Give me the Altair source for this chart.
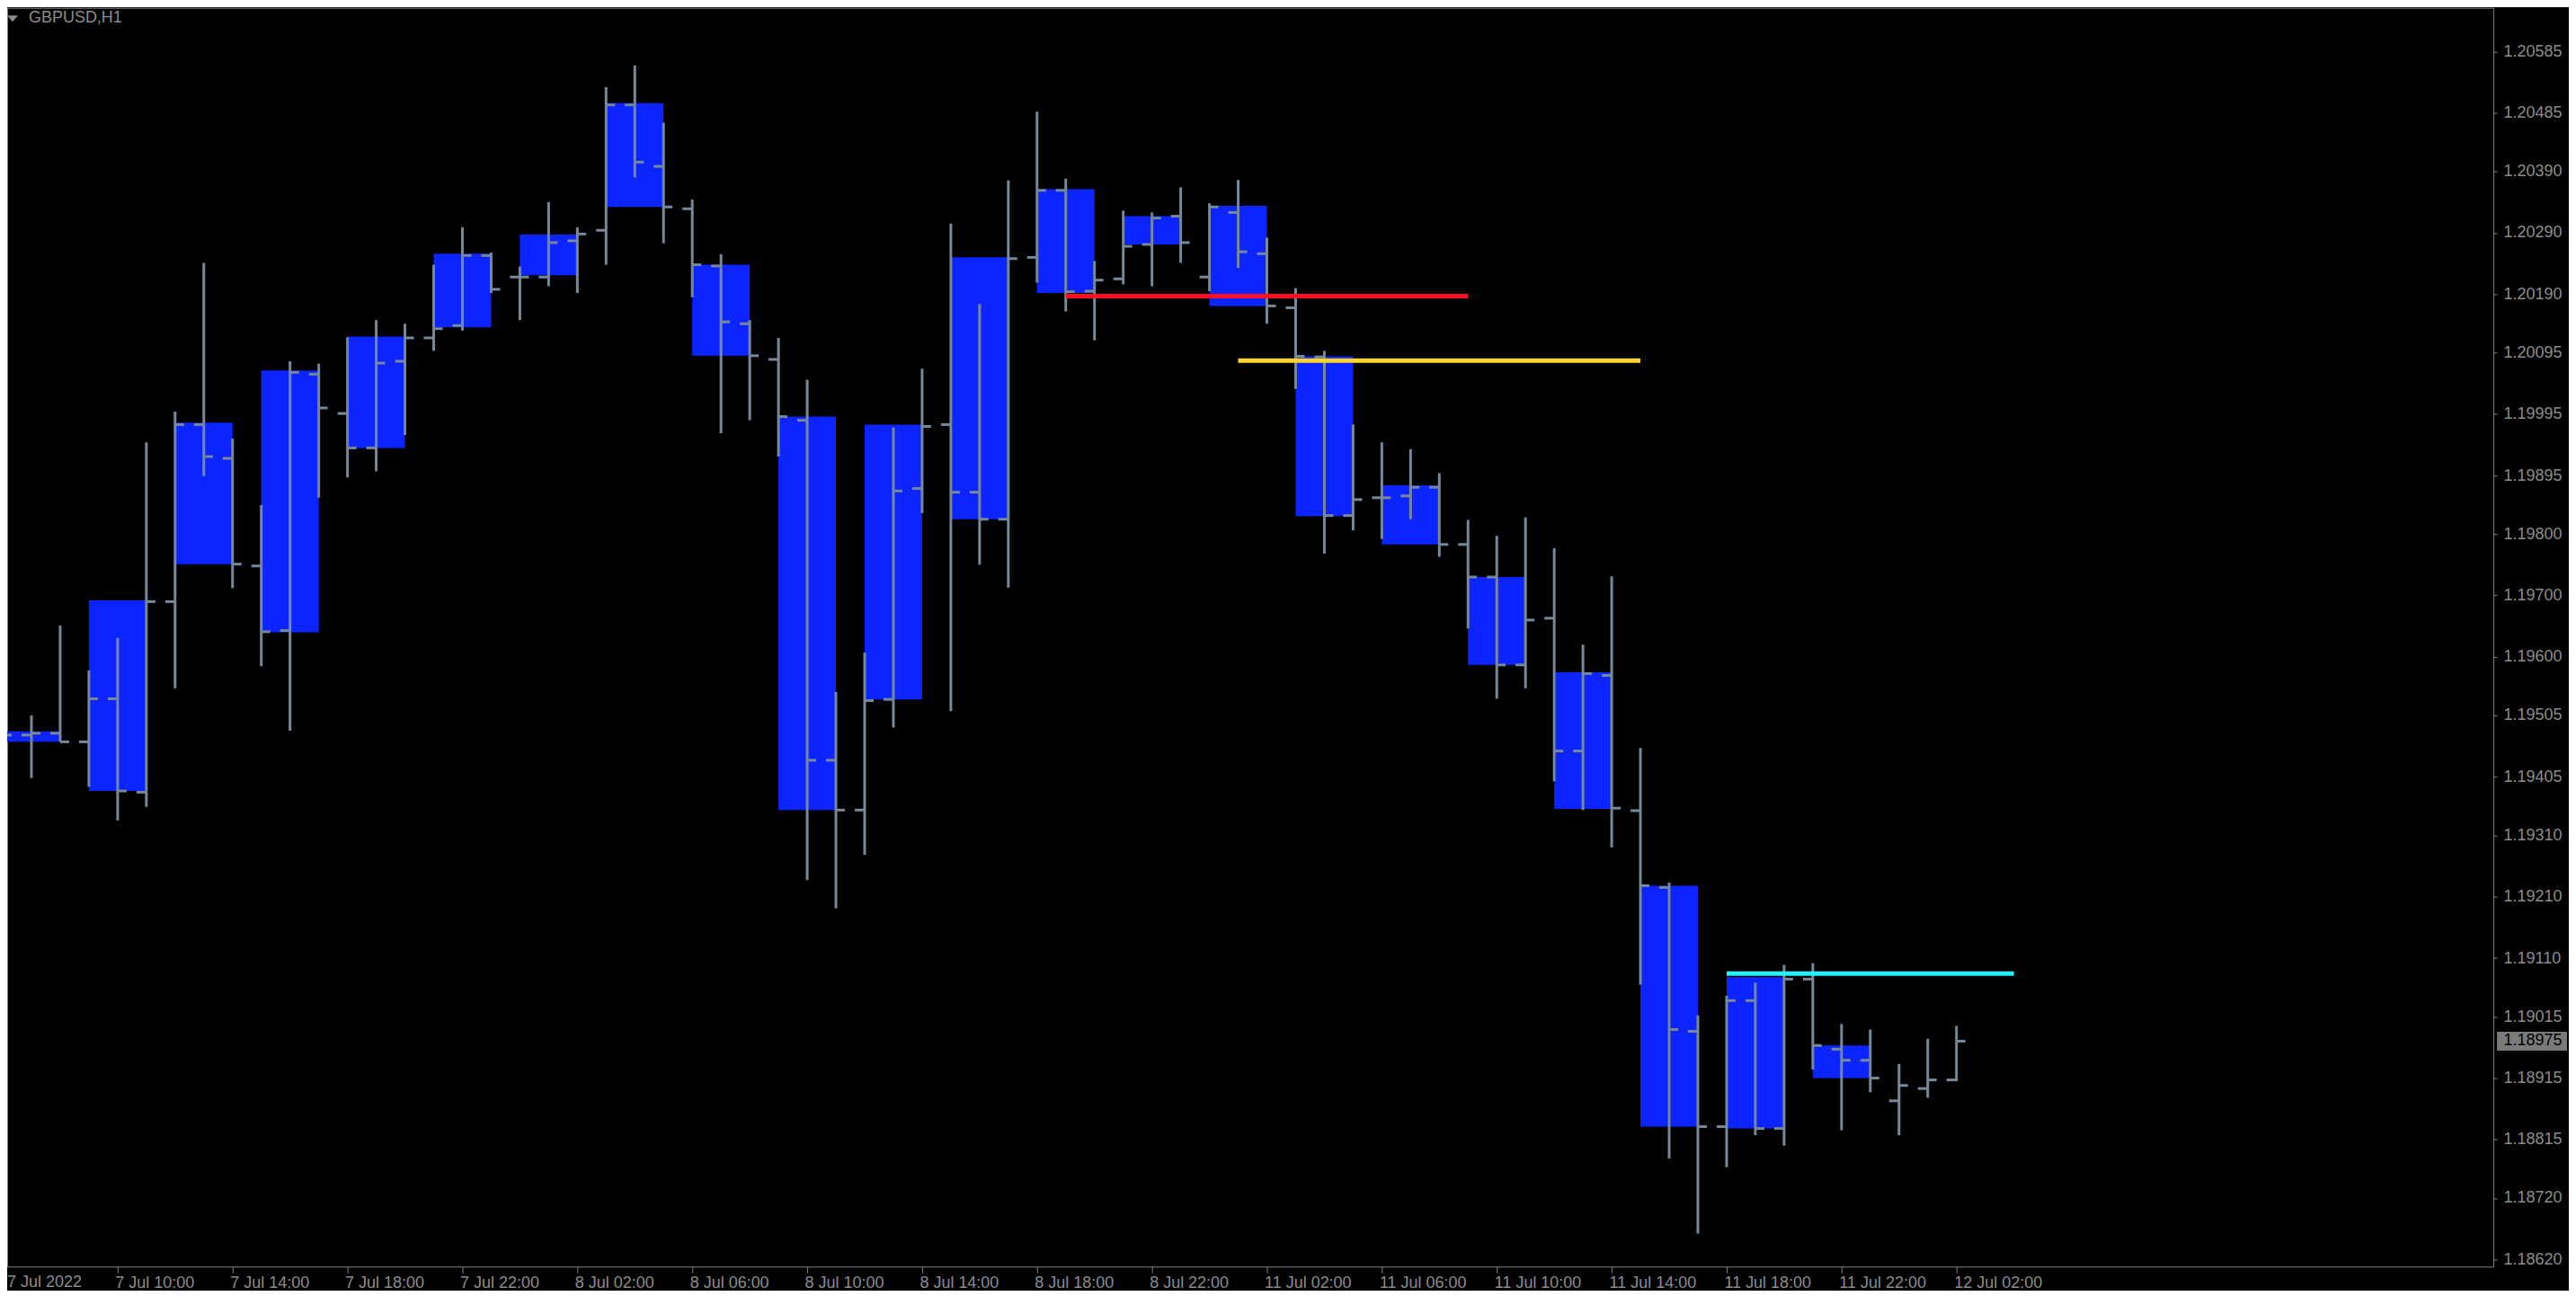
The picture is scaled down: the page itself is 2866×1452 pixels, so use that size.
import json
import altair as alt
import pandas as pd

# ---------------- data ----------------
# hourly bars, index 0 = 7 Jul 2022 06:00 (weekend gap skipped: 41 = 8 Jul 23:00, 42 = 11 Jul 00:00)
bar_open = [1.19470, 1.19473, 1.19476, 1.19462, 1.19532, 1.19380, 1.19690, 1.19978, 1.19923, 1.19748,
            1.19643, 1.20060, 1.19996, 1.19940, 1.20081, 1.20119, 1.20139, 1.20253, 1.20218, 1.20218,
            1.20277, 1.20294, 1.20498, 1.20398, 1.20329, 1.20236, 1.20142, 1.20084, 1.19985, 1.19432,
            1.19351, 1.19531, 1.19874, 1.19978, 1.19868, 1.19824, 1.20250, 1.20359, 1.20195, 1.20215,
            1.20271, 1.20317, 1.20218, 1.20323, 1.20256, 1.20168, 1.20088, 1.19830, 1.19859, 1.19862,
            1.19876, 1.19783, 1.19730, 1.19587, 1.19663, 1.19447, 1.19570, 1.19350, 1.19225, 1.18991,
            1.18836, 1.19041, 1.18833, 1.19076, 1.18962, 1.18944, 1.18878, 1.18898, 1.18912]
bar_high = [1.19540, 1.19505, 1.19651, 1.19578, 1.19631, 1.19949, 1.19999, 1.20241, 1.19955, 1.19847,
            1.20081, 1.20077, 1.20120, 1.20148, 1.20142, 1.20238, 1.20299, 1.20258, 1.20235, 1.20340,
            1.20299, 1.20527, 1.20562, 1.20469, 1.20344, 1.20255, 1.20148, 1.20119, 1.20051, 1.19543,
            1.19607, 1.19973, 1.20069, 1.20305, 1.20174, 1.20375, 1.20487, 1.20378, 1.20244, 1.20326,
            1.20323, 1.20364, 1.20338, 1.20376, 1.20282, 1.20200, 1.20098, 1.19978, 1.19949, 1.19938,
            1.19899, 1.19823, 1.19797, 1.19827, 1.19777, 1.19620, 1.19731, 1.19452, 1.19233, 1.19017,
            1.19049, 1.19070, 1.19099, 1.19102, 1.19003, 1.18994, 1.18938, 1.18979, 1.19000]
bar_low = [1.19438, 1.19403, 1.19462, 1.19389, 1.19334, 1.19356, 1.19549, 1.19894, 1.19712, 1.19585,
           1.19480, 1.19859, 1.19892, 1.19902, 1.19961, 1.20098, 1.20131, 1.20192, 1.20148, 1.20203,
           1.20192, 1.20238, 1.20380, 1.20273, 1.20185, 1.19964, 1.19985, 1.19926, 1.19237, 1.19191,
           1.19278, 1.19485, 1.19834, 1.19512, 1.19750, 1.19713, 1.20209, 1.20162, 1.20115, 1.20206,
           1.20203, 1.20241, 1.20195, 1.20233, 1.20142, 1.20036, 1.19768, 1.19806, 1.19792, 1.19824,
           1.19763, 1.19646, 1.19532, 1.19549, 1.19398, 1.19351, 1.19290, 1.19067, 1.18784, 1.18662,
           1.18770, 1.18822, 1.18805, 1.18929, 1.18830, 1.18892, 1.18822, 1.18883, 1.18910]
bar_close = [1.19473, 1.19476, 1.19462, 1.19532, 1.19382, 1.19690, 1.19978, 1.19926, 1.19751, 1.19641,
             1.20063, 1.20005, 1.19940, 1.20078, 1.20119, 1.20134, 1.20253, 1.20198, 1.20218, 1.20274,
             1.20288, 1.20498, 1.20405, 1.20332, 1.20238, 1.20145, 1.20090, 1.19991, 1.19432, 1.19351,
             1.19529, 1.19870, 1.19975, 1.19868, 1.19824, 1.20248, 1.20359, 1.20194, 1.20213, 1.20268,
             1.20314, 1.20274, 1.20332, 1.20259, 1.20171, 1.20089, 1.19830, 1.19856, 1.19859, 1.19876,
             1.19783, 1.19730, 1.19587, 1.19660, 1.19447, 1.19573, 1.19354, 1.19228, 1.18994, 1.18836,
             1.19041, 1.18833, 1.19076, 1.18968, 1.18944, 1.18915, 1.18903, 1.18912, 1.18975]

# higher-timeframe bodies (each covers three hourly bars starting at box_start)
box_start = [0, 3, 6, 9, 12, 15, 18, 21, 24, 27, 30, 33, 36, 39, 42, 45, 48, 51, 54, 57, 60, 63]
box_top = [1.19479, 1.19692, 1.19981, 1.20066, 1.20121, 1.20256, 1.20287, 1.20501, 1.20238, 1.19991,
           1.19978, 1.20250, 1.20361, 1.20317, 1.20334, 1.20089, 1.19879, 1.19730, 1.19575, 1.19228,
           1.19079, 1.18968]
box_bottom = [1.19462, 1.19382, 1.19751, 1.19640, 1.19940, 1.20136, 1.20221, 1.20332, 1.20090, 1.19351,
              1.19531, 1.19824, 1.20192, 1.20271, 1.20171, 1.19829, 1.19783, 1.19587, 1.19353, 1.18836,
              1.18833, 1.18915]

# horizontal level lines
level_name = ["red", "yellow", "cyan"]
level_start = [37, 43, 60]
level_end = [51, 57, 70]
level_price = [1.20187, 1.20082, 1.19085]

last_price = 1.18975
symbol_text = "GBPUSD,H1"

xtick_bars = [0, 4, 8, 12, 16, 20, 24, 28, 32, 36, 40, 44, 48, 52, 56, 60, 64, 68]
xtick_labels = ["7 Jul 2022", "7 Jul 10:00", "7 Jul 14:00", "7 Jul 18:00", "7 Jul 22:00",
                "8 Jul 02:00", "8 Jul 06:00", "8 Jul 10:00", "8 Jul 14:00", "8 Jul 18:00",
                "8 Jul 22:00", "11 Jul 02:00", "11 Jul 06:00", "11 Jul 10:00", "11 Jul 14:00",
                "11 Jul 18:00", "11 Jul 22:00", "12 Jul 02:00"]
ytick_values = [1.20585, 1.20485, 1.20390, 1.20290, 1.20190, 1.20095, 1.19995, 1.19895, 1.19800,
                1.19700, 1.19600, 1.19505, 1.19405, 1.19310, 1.19210, 1.19110, 1.19015, 1.18915,
                1.18815, 1.18720, 1.18620]

# ---------------- styles ----------------
BG = "#000000"
BAR_GRAY = "#778899"
BOX_BLUE = "#0c24ff"
FRAME = "#808080"
TEXT = "#8c8c8c"
FONT = "Liberation Sans"
LEVEL_COLORS = {"red": "#ff1020", "yellow": "#ffd42a", "cyan": "#22f2ff"}
LEVEL_WIDTHS = {"red": 5, "yellow": 5, "cyan": 3.5}

W, H = 2769, 1402
X_DOMAIN = [0.15625, 86.6875]
Y_DOMAIN = [1.1860832, 1.2065584]
X_TICK, X_LABEL_PAD = 7, 2

xs = alt.Scale(domain=X_DOMAIN, nice=False, zero=False)
ys = alt.Scale(domain=Y_DOMAIN, nice=False, zero=False)

bars = pd.DataFrame({"i": list(range(len(bar_open))), "o": bar_open, "h": bar_high,
                     "l": bar_low, "c": bar_close})
boxes = pd.DataFrame({"start": box_start, "top": box_top, "bottom": box_bottom})
levels = pd.DataFrame({"name": level_name, "start": level_start, "end": level_end, "price": level_price})
first_label = pd.DataFrame({"i": xtick_bars[:1], "t": xtick_labels[:1]})

label_expr = f"{json.dumps(xtick_labels)}[indexof({json.dumps(xtick_bars)}, datum.value)]"

x_axis = alt.Axis(values=xtick_bars[1:], labelExpr=label_expr, title=None, domain=False, grid=False,
                  ticks=True, tickSize=X_TICK, tickColor=FRAME, tickWidth=1,
                  labelColor=TEXT, labelFont=FONT, labelFontSize=18, labelAlign="left",
                  labelBaseline="top", labelPadding=X_LABEL_PAD, labelFlush=False, labelOverlap=False,
                  labelOffset=-3)
y_axis = alt.Axis(values=ytick_values, format=".5f", orient="right", title=None, domain=False,
                  grid=False, ticks=True, tickSize=4, tickColor=FRAME, tickWidth=1,
                  labelColor=TEXT, labelFont=FONT, labelFontSize=18, labelAlign="left",
                  labelBaseline="middle", labelPadding=7, labelFlush=False, labelOverlap=False)


def X(field):
    return alt.X(field, scale=xs, axis=x_axis)


def Y(field):
    return alt.Y(field, scale=ys, axis=y_axis)


box_layer = alt.Chart(boxes).transform_calculate(end="datum.start + 2").mark_rect(
    color=BOX_BLUE).encode(x=X("start:Q"), x2="end:Q", y=Y("top:Q"), y2="bottom:Q")

range_layer = alt.Chart(bars).mark_rule(color=BAR_GRAY, strokeWidth=3).encode(
    x=X("i:Q"), y=Y("l:Q"), y2="h:Q")
open_layer = alt.Chart(bars).mark_tick(color=BAR_GRAY, orient="horizontal", size=11, thickness=3,
                                       xOffset=-5.5, opacity=1).encode(x=X("i:Q"), y=Y("o:Q"))
close_layer = alt.Chart(bars).mark_tick(color=BAR_GRAY, orient="horizontal", size=10, thickness=3,
                                        xOffset=5, opacity=1).encode(x=X("i:Q"), y=Y("c:Q"))

level_layer = alt.Chart(levels).mark_rule(strokeCap="butt").encode(
    x=X("start:Q"),
    x2="end:Q",
    y=Y("price:Q"),
    color=alt.Color("name:N", scale=alt.Scale(domain=level_name,
                                              range=[LEVEL_COLORS[n] for n in level_name]), legend=None),
    strokeWidth=alt.StrokeWidth("name:N", scale=alt.Scale(domain=level_name,
                                                          range=[LEVEL_WIDTHS[n] for n in level_name]),
                                legend=None),
)

# first time label sits at the very left edge of the plot
first_label_layer = alt.Chart(first_label).mark_text(
    font=FONT, fontSize=18, color=TEXT, align="left", baseline="top", dx=5).encode(
    x=X("i:Q"), y=alt.value(H + X_TICK + X_LABEL_PAD), text="t:N")

price_df = pd.DataFrame({"p": [last_price]})
price_box = alt.Chart(price_df).mark_rule(color="#7a7a7a", strokeWidth=21, strokeCap="butt").encode(
    x=alt.value(W + 4), x2=alt.value(W + 82), y=Y("p:Q"))
price_text = alt.Chart(price_df).mark_text(font=FONT, fontSize=18, color="#000000", align="center",
                                            baseline="middle").encode(
    x=alt.value(W + 44), y=Y("p:Q"), text=alt.Text("p:Q", format=".5f"))

title_df = pd.DataFrame({"t": [symbol_text]})
title_text = alt.Chart(title_df).mark_text(font=FONT, fontSize=18, color=TEXT, align="left",
                                            baseline="middle").encode(
    x=alt.value(24), y=alt.value(11), text="t:N")
title_tri = alt.Chart(title_df).mark_point(shape="M-1,-0.6L1,-0.6L0,0.6Z", filled=True, size=144,
                                           color=TEXT, opacity=1).encode(
    x=alt.value(6), y=alt.value(12))

chart = alt.layer(
    box_layer, range_layer, open_layer, close_layer, level_layer, first_label_layer,
    price_box, price_text, title_text, title_tri,
).properties(
    width=W, height=H,
    autosize=alt.AutoSizeParams(type="none"),
    padding={"left": 0, "top": 0, "right": 84, "bottom": 26},
    background=BG,
).configure_view(
    stroke=FRAME, strokeWidth=1, fill=BG,
)

chart.save("out.html", embed_options={"renderer": "svg", "actions": False})
